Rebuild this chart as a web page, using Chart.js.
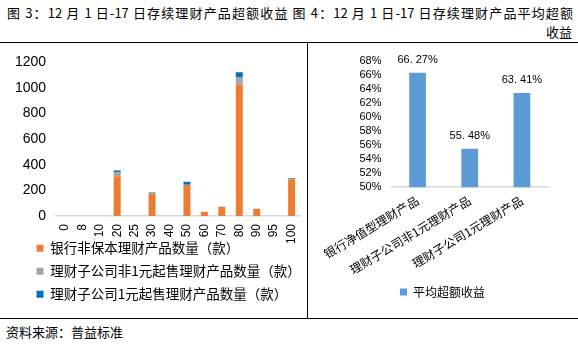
<!DOCTYPE html>
<html>
<head>
<meta charset="utf-8">
<script src="https://cdn.jsdelivr.net/npm/chart.js@4.4.1/dist/chart.umd.min.js"></script>
<style>
  body { margin: 0; width: 578px; height: 348px; background: #fff; position: relative; overflow: hidden;
         font-family: "Noto Sans CJK SC", sans-serif; color: #000; }
  .title1 { position: absolute; left: 7px; top: 4px; width: 566px; font-size: 13px; line-height: 18px;
            text-align: justify; text-align-last: justify; white-space: nowrap; }
  .title2 { position: absolute; right: 6px; top: 23px; font-size: 13px; line-height: 18px; }
  .hline { position: absolute; left: 0; width: 578px; height: 0; border-top: 1.5px solid #000; }
  .vline { position: absolute; left: 307px; top: 42px; width: 0; height: 276px; border-left: 1.5px solid #000; }
  .source { position: absolute; left: 6px; top: 323px; font-size: 13px; line-height: 18px; }
  #leftBox { position: absolute; left: 0; top: 44px; width: 314px; height: 267px; }
  #rightBox { position: absolute; left: 307px; top: 44px; width: 271px; height: 272px; }
</style>
</head>
<body>
<div class="title1">图 3：12 月 1 日-17 日存续理财产品超额收益 图 4：12 月 1 日-17 日存续理财产品平均超额</div>
<div class="title2">收益</div>
<div class="hline" style="top:42px"></div>
<div class="vline"></div>
<div class="hline" style="top:318px"></div>
<div class="source">资料来源：普益标准</div>

<div id="leftBox"><canvas id="leftChart"></canvas></div>
<div id="rightBox"><canvas id="rightChart"></canvas></div>

<script>
// left chart: product counts by excess-return bucket
const categories = ["0", "8", "10", "20", "25", "30", "40", "50", "60", "70", "80", "90", "95", "100"];
const bankCounts = [0, 0, 0, 311, 0, 174, 0, 245, 34, 73, 1027, 57, 0, 288];
const wmcNonOneYuan = [0, 0, 0, 31, 0, 4, 0, 0, 0, 0, 55, 0, 0, 3];
const wmcOneYuan = [0, 0, 0, 13, 0, 6, 0, 23, 0, 0, 41, 0, 0, 6];
const leftTicks = [0, 200, 400, 600, 800, 1000, 1200];

// right chart: average excess return
const productTypes = ["银行净值型理财产品", "理财子公司非1元理财产品", "理财子公司1元理财产品"];
const avgExcess = [66.27, 55.48, 63.41];
const rightTicks = [50, 52, 54, 56, 58, 60, 62, 64, 66, 68];

const numFont = '"Liberation Sans", Arial, sans-serif';
const cjkFont = '"Noto Sans CJK SC", sans-serif';

Chart.defaults.color = "#000";
Chart.defaults.animation = false;

// x labels are allowed to hang into the legend area, so don't clip them at the (shortened) axis box
const unclipTicks = {
    id: "unclipTicks",
    afterLayout(chart) {
        chart.scales.x.bottom = chart.height;
    }
};

// legend of the left chart is indented like the original
const indentLegend = {
    id: "indentLegend",
    afterLayout(chart) {
        chart.legend.left += 22;
    }
};

new Chart(document.getElementById("leftChart"), {
    type: "bar",
    data: {
        labels: categories,
        datasets: [
            { label: "银行非保本理财产品数量（款）", data: bankCounts, backgroundColor: "#ED7D31" },
            { label: "理财子公司非1元起售理财产品数量（款）", data: wmcNonOneYuan, backgroundColor: "#A5A5A5" },
            { label: "理财子公司1元起售理财产品数量（款）", data: wmcOneYuan, backgroundColor: "#0070C0" }
        ]
    },
    options: {
        responsive: true,
        maintainAspectRatio: false,
        layout: { padding: { left: 5, right: 0, top: 10, bottom: 0 } },
        datasets: { bar: { categoryPercentage: 0.8, barPercentage: 0.5 } },
        plugins: {
            tooltip: { enabled: false },
            legend: {
                position: "bottom",
                align: "start",
                labels: {
                    boxWidth: 7, boxHeight: 7, padding: 9.5,
                    font: { family: cjkFont, size: 13.5 }, color: "#000"
                }
            }
        },
        scales: {
            x: {
                stacked: true,
                grid: { display: false, drawTicks: false },
                border: { color: "#d9d9d9", width: 1.5 },
                afterFit: scale => { scale.height = 16; },
                ticks: {
                    autoSkip: false, minRotation: 90, maxRotation: 90, padding: 8,
                    font: { family: numFont, size: 12 }
                }
            },
            y: {
                stacked: true,
                min: 0, max: 1200,
                afterBuildTicks: axis => { axis.ticks = leftTicks.map(v => ({ value: v })); },
                grid: { display: false, drawTicks: false },
                border: { display: false },
                ticks: { padding: 10, font: { family: numFont, size: 14 }, callback: v => String(v) }
            }
        }
    },
    plugins: [unclipTicks, indentLegend]
});

// value labels above the right bars
const valueLabels = {
    id: "valueLabels",
    afterDatasetsDraw(chart) {
        const ctx = chart.ctx;
        const meta = chart.getDatasetMeta(0);
        ctx.save();
        ctx.font = "11px " + numFont;
        ctx.fillStyle = "#000";
        ctx.textAlign = "center";
        ctx.textBaseline = "bottom";
        meta.data.forEach((bar, i) => {
            const txt = avgExcess[i].toFixed(2).replace(".", ". ") + "%";
            ctx.fillText(txt, bar.x, bar.y - 7);
        });
        ctx.restore();
    }
};

new Chart(document.getElementById("rightChart"), {
    type: "bar",
    data: {
        labels: productTypes,
        datasets: [
            { label: "平均超额收益", data: avgExcess, backgroundColor: "#5B9BD5" }
        ]
    },
    options: {
        responsive: true,
        maintainAspectRatio: false,
        layout: { padding: { left: 30, right: 30, top: 14, bottom: 8 } },
        datasets: { bar: { categoryPercentage: 1, barPercentage: 0.32 } },
        plugins: {
            tooltip: { enabled: false },
            legend: {
                position: "bottom",
                labels: {
                    boxWidth: 7, boxHeight: 7, padding: 10,
                    font: { family: cjkFont, size: 12 }, color: "#000"
                }
            }
        },
        scales: {
            x: {
                grid: { display: false, drawTicks: false },
                border: { color: "#d9d9d9", width: 1.5 },
                afterFit: scale => { scale.height -= 7; },
                ticks: {
                    autoSkip: false, minRotation: 31, maxRotation: 31, padding: 6,
                    font: { family: cjkFont, size: 12 }
                }
            },
            y: {
                min: 50, max: 68,
                afterBuildTicks: axis => { axis.ticks = rightTicks.map(v => ({ value: v })); },
                grid: { display: false, drawTicks: false },
                border: { display: false },
                ticks: {
                    autoSkip: false,
                    padding: 10,
                    font: { family: numFont, size: 11 },
                    callback: v => v + "%"
                }
            }
        }
    },
    plugins: [valueLabels, unclipTicks]
});
</script>
</body>
</html>
